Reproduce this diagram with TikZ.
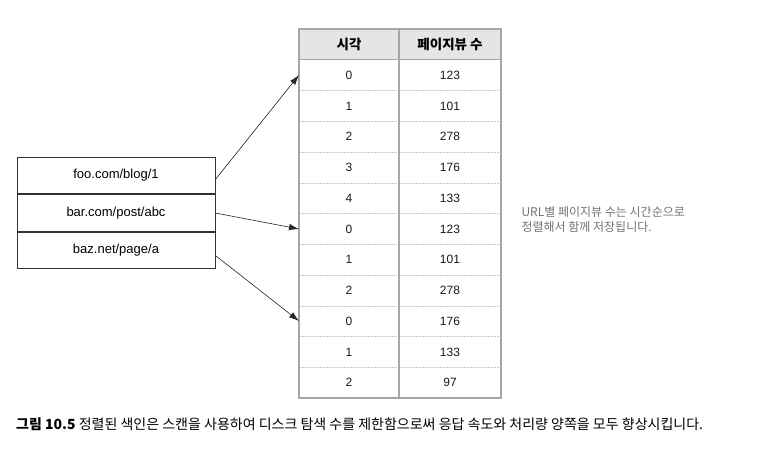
\documentclass[tikz,border=0pt]{standalone}
\usepackage{fontspec}
\setmainfont{Liberation Sans}
\newfontfamily\kr{Noto Sans CJK KR}
\usetikzlibrary{arrows.meta}
\begin{document}
\begin{tikzpicture}[x=1pt,y=-1pt,
  cell/.style={font=\fontsize{12}{14}\selectfont, text=black!90},
  urlbox/.style={draw=black!80, line width=0.8pt, minimum width=198pt, minimum height=36.7pt, inner sep=0pt, font=\fontsize{13}{14}\selectfont},
  arr/.style={-{Latex[length=10pt,width=6.5pt]}, line width=0.6pt, black!85}]
\useasboundingbox (0,0) rectangle (784,448);
% table header
\fill[black!10] (299,29) rectangle (501,59.75);
\foreach \i in {1,...,10}{
  \draw[black!22, dash pattern=on 2pt off 1pt, line width=0.5pt] (299,{29+30.75*(\i+1)}) -- (501,{29+30.75*(\i+1)});
}
\draw[black!35, line width=1pt] (299,59.75) -- (501,59.75);
\draw[black!35, line width=1.2pt] (399,29) -- (399,398);
\draw[black!35, line width=1.6pt] (299,29) rectangle (501,398);
\node[font=\kr\bfseries\fontsize{13.5}{15}\selectfont] (h1) at (349,44.4) {시각};
\node[font=\kr\bfseries\fontsize{13.5}{15}\selectfont] (h2) at (450,44.4) {페이지뷰 수};
\foreach \t/\v [count=\i] in {0/123,1/101,2/278,3/176,4/133,0/123,1/101,2/278,0/176,1/133,2/97}{
  \node[cell] (t\i) at (349,{29+30.75*(\i+0.5)}) {\t};
  \node[cell] (v\i) at (450,{29+30.75*(\i+0.5)}) {\v};
}
\coordinate (a1) at (299,75);
\coordinate (a6) at (299,229);
\coordinate (a9) at (299,321);
% url boxes
\node[urlbox] (u1) at (116,175.5) {foo.com/blog/1};
\node[urlbox, anchor=north] (u2) at (u1.south) {bar.com/post/abc};
\node[urlbox, anchor=north] (u3) at (u2.south) {baz.net/page/a};
\draw[arr] ([yshift=-4pt]u1.east) -- (a1);
\draw[arr] (u2.east) -- (a6);
\draw[arr] ([yshift=-5pt]u3.east) -- (a9);
% note
\node[anchor=west, align=left, text=black!55, font=\kr\fontsize{12}{15.5}\selectfont] (note) at (518,219.5) {URL별 페이지뷰 수는 시간순으로\\정렬해서 함께 저장됩니다.};
% caption
\node[anchor=west, font=\kr\fontsize{14}{16}\selectfont, inner sep=0pt] (cap) at (16,424) {{\bfseries 그림 10.5} 정렬된 색인은 스캔을 사용하여 디스크 탐색 수를 제한함으로써 응답 속도와 처리량 양쪽을 모두 향상시킵니다.};
\end{tikzpicture}
\end{document}
